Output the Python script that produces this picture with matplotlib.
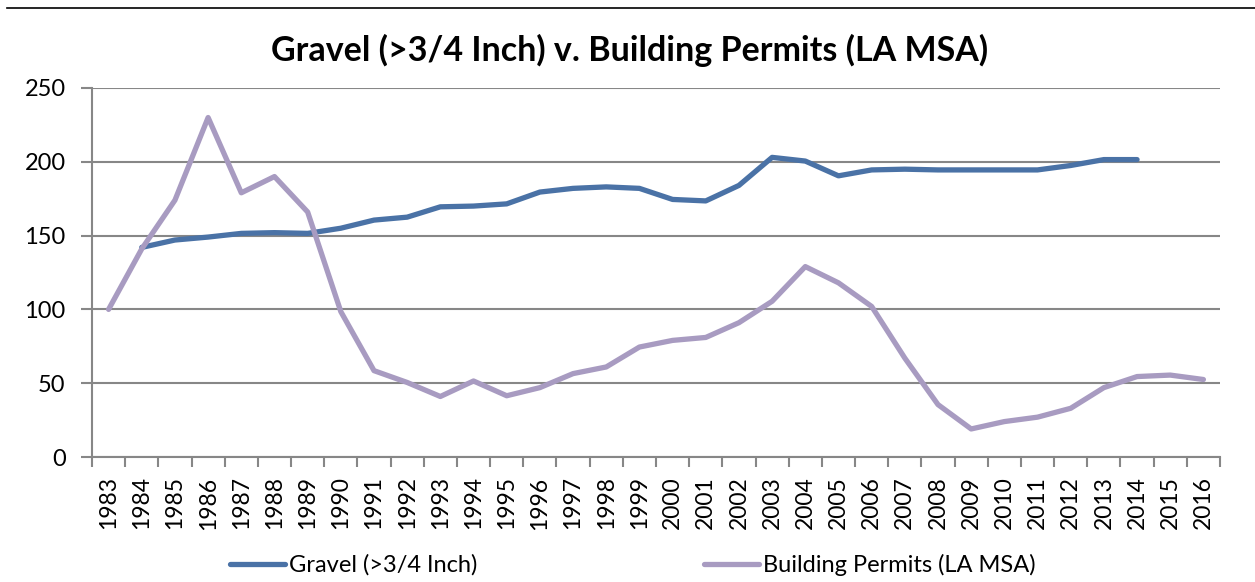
import matplotlib
matplotlib.use("Agg")
import matplotlib.pyplot as plt
import numpy as np

plt.rcParams['font.family'] = ['Lato', 'DejaVu Sans']

years = [str(y) for y in range(1983, 2017)]

# index, 1983 = 100
gravel = [np.nan, 142, 147, 149, 151.5, 152, 151.5, 155, 160.5, 162.5,
          169.5, 170, 171.5, 179.5, 182, 183, 182, 174.5, 173.5, 184,
          203, 200.5, 190.5, 194.5, 195, 194.5, 194.5, 194.5, 194.5, 197.5,
          201.5, 201.5, np.nan, np.nan]
permits = [100, 141, 174, 230, 179, 190, 166, 98.5, 58.5, 50.5,
           41, 51.5, 41.5, 47, 56.5, 61, 74.5, 79, 81, 91,
           105.5, 129, 118, 102, 67, 35.5, 19, 24, 27, 33,
           47, 54.5, 55.5, 52.5]

blue = '#4A72A6'
purple = '#A89BC1'
grid_col = '#878787'

fig = plt.figure(figsize=(12.55, 5.82), dpi=100)
ax = fig.add_axes([92 / 1255, 1 - 457 / 582, (1220 - 92) / 1255, (457 - 88) / 582])

x = np.arange(len(years))
ax.plot(x, gravel, color=blue, lw=3.8, solid_capstyle='round', label='Gravel (>3/4 Inch)')
ax.plot(x, permits, color=purple, lw=3.8, solid_capstyle='round', label='Building Permits (LA MSA)')

ax.set_xlim(-0.5, len(years) - 0.5)
ax.set_ylim(0, 250)
ax.set_yticks(range(0, 251, 50))
ax.yaxis.grid(True, color=grid_col, lw=1.5)
ax.set_axisbelow(True)

ax.set_xticks(x)
ax.set_xticklabels(years, rotation=90, fontsize=16.5)
ax.set_xticks(np.arange(-0.5, len(years)), minor=True)
ax.tick_params(axis='x', which='major', length=0, pad=14)
ax.tick_params(axis='x', which='minor', length=7, width=1.5, color=grid_col)
ax.tick_params(axis='y', length=8, width=1.5, color=grid_col, pad=11, labelsize=17)

for s in ['top', 'right']:
    ax.spines[s].set_visible(False)
for s in ['left', 'bottom']:
    ax.spines[s].set_color(grid_col)
    ax.spines[s].set_linewidth(1.5)

fig.text(0.502, 1 - 50 / 582, 'Gravel (>3/4 Inch) v. Building Permits (LA MSA)',
         ha='center', va='center', fontsize=24.5, fontweight='bold')

# thin rule across the top of the picture
fig.add_artist(plt.Line2D([7 / 1255, 1], [1 - 8 / 582, 1 - 8 / 582], color='black', lw=1.2))

fig.legend(loc='center', bbox_to_anchor=(633 / 1255, 1 - 565 / 582), ncol=2, frameon=False,
           fontsize=17, handlelength=2.33, handletextpad=0.17, columnspacing=9.6)

fig.savefig('out.png', dpi=100)
